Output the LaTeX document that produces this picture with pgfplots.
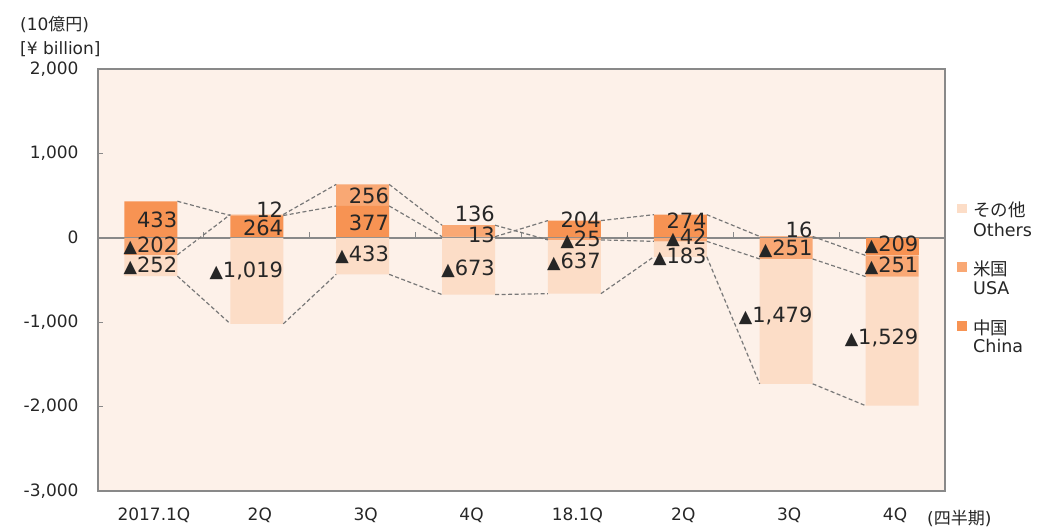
\documentclass[border=0pt]{standalone}
\usepackage{pgfplots}
\pgfplotsset{compat=1.18}
\usepackage{fontspec}
\setmainfont{DejaVu Sans}
\newfontfamily\jp{Noto Sans CJK JP}
\definecolor{bgc}{RGB}{253,241,233}
\definecolor{oth}{RGB}{252,221,199}
\definecolor{usa}{RGB}{249,168,116}
\definecolor{chn}{RGB}{247,147,83}
\definecolor{axc}{RGB}{137,137,137}
\definecolor{lnc}{RGB}{120,120,120}
\definecolor{txt}{RGB}{38,38,38}
\newcommand{\tri}{{\fontsize{17.5}{17.5}\selectfont ▲}}
\pgfplotsset{
  base/.style={
    scale only axis, width=847pt, height=422pt,
    at={(98pt,39pt)}, anchor=south west,
    xmin=-0.5, xmax=7.5, ymin=-3000, ymax=2000,
  }
}
\begin{document}
\begin{tikzpicture}
\useasboundingbox (0,0) rectangle (1037pt,530pt);
% main axis: frame, ticks, positive stacks
\begin{axis}[base, ybar stacked, bar width=0.5,
  axis background/.style={fill=bgc},
  axis line style={axc, line width=1.5pt},
  xtick={0,...,7},
  xticklabels={2017.1Q,2Q,3Q,4Q,18.1Q,2Q,3Q,4Q},
  x tick style={draw=none},
  ytick={-3000,-2000,-1000,0,1000,2000},
  yticklabels={{-3,000},{-2,000},{-1,000},0,{1,000},{2,000}},
  ytick pos=left, tick align=inside, major tick length=4.5pt,
  y tick style={axc, line width=1.2pt},
  tick label style={font=\fontsize{17}{17}\selectfont, text=txt},
  xticklabel style={yshift=-13pt, xshift=3pt},
  yticklabel style={xshift=-16pt},
]
\draw[axc, line width=1.5pt] (axis cs:-0.5,0) -- (axis cs:7.5,0);
\pgfplotsinvokeforeach{0.5,1.5,2.5,3.5,4.5,5.5,6.5}{
  \draw[axc, line width=1.2pt] (axis cs:#1,0) -- ([yshift=5.5pt]axis cs:#1,0);
}
% China (positive part)
\addplot[fill=chn, draw=none] coordinates {(0,433) (1,264) (2,377) (3,13) (4,204) (5,274) (6,16) (7,0)};
% USA (positive part)
\addplot[fill=usa, draw=none] coordinates {(0,0) (1,12) (2,256) (3,136) (4,0) (5,0) (6,0) (7,0)};
\end{axis}
% negative stacks
\begin{axis}[base, ybar stacked, bar width=0.5, hide axis]
% China (negative part)
\addplot[fill=chn, draw=none] coordinates {(0,0) (1,0) (2,0) (3,0) (4,0) (5,0) (6,0) (7,-209)};
% USA (negative part)
\addplot[fill=usa, draw=none] coordinates {(0,-202) (1,0) (2,0) (3,0) (4,-25) (5,-42) (6,-251) (7,-251)};
% Others (negative)
\addplot[fill=oth, draw=none] coordinates {(0,-252) (1,-1019) (2,-433) (3,-673) (4,-637) (5,-183) (6,-1479) (7,-1529)};
\end{axis}
% series lines and labels
\begin{axis}[base, hide axis, clip=false, unbounded coords=jump]
\addplot[lnc, line width=1.2pt, dash pattern=on 4pt off 2.5pt, mark=none] coordinates {
 (0.25,433) (0.75,264) (1,nan) (1.25,264) (1.75,377) (2,nan) (2.25,377) (2.75,13) (3,nan)
 (3.25,13) (3.75,204) (4,nan) (4.25,204) (4.75,274) (5,nan) (5.25,274) (5.75,16) (6,nan)
 (6.25,16) (6.75,-209)};
\addplot[lnc, line width=1.2pt, dash pattern=on 4pt off 2.5pt, mark=none] coordinates {
 (0.25,-202) (0.75,276) (1,nan) (1.25,276) (1.75,633) (2,nan) (2.25,633) (2.75,149) (3,nan)
 (3.25,149) (3.75,-25) (4,nan) (4.25,-25) (4.75,-42) (5,nan) (5.25,-42) (5.75,-251) (6,nan)
 (6.25,-251) (6.75,-460)};
\addplot[lnc, line width=1.2pt, dash pattern=on 4pt off 2.5pt, mark=none] coordinates {
 (0.25,-454) (0.75,-1019) (1,nan) (1.25,-1019) (1.75,-433) (2,nan) (2.25,-433) (2.75,-673) (3,nan)
 (3.25,-673) (3.75,-662) (4,nan) (4.25,-662) (4.75,-225) (5,nan) (5.25,-225) (5.75,-1730) (6,nan)
 (6.25,-1730) (6.75,-1989)};
\addplot[only marks, mark=none, nodes near coords, point meta=explicit symbolic,
  every node near coord/.append style={anchor=east, inner sep=0pt, text=txt,
    font=\fontsize{21}{21}\selectfont}]
  table[meta=lab] {
x y lab
0.25 207 433
0.25 -95 \tri202
0.25 -331 \tri252
1.25 337 12
1.25 112 264
1.25 -396 \tri1,019
2.25 491 256
2.25 172 377
2.25 -201 \tri433
3.25 284 136
3.25 36 13
3.25 -373 \tri673
4.25 213 204
4.25 -18 \tri25
4.25 -290 \tri637
5.25 207 274
5.25 6 \tri42
5.25 -225 \tri183
6.25 95 16
6.25 -130 \tri251
6.25 -923 \tri1,479
7.25 -83 \tri209
7.25 -337 \tri251
7.25 -1189 \tri1,529
};
\end{axis}
% unit labels
\node[anchor=west, inner sep=0pt, text=txt, font=\fontsize{17}{17}\selectfont] at (20pt,505pt) {(10{\jp 億円})};
\node[anchor=west, inner sep=0pt, text=txt, font=\fontsize{17}{17}\selectfont] at (20pt,481pt) {[¥ billion]};
\node[anchor=west, inner sep=0pt, text=txt, font=\fontsize{17}{17}\selectfont] at (927pt,12pt) {({\jp 四半期})};
% legend
\fill[oth] (957pt,316.5pt) rectangle ++(9.5pt,9.5pt);
\fill[usa] (957pt,258.2pt) rectangle ++(9.5pt,9.5pt);
\fill[chn] (957pt,199.2pt) rectangle ++(9.5pt,9.5pt);
\begin{scope}[every node/.style={anchor=west, inner sep=0pt, text=txt, font=\fontsize{17.5}{17.5}\selectfont}]
\node at (973pt,320pt) {\jp その他};
\node at (973pt,300pt) {Others};
\node at (973pt,261pt) {\jp 米国};
\node at (973pt,242pt) {USA};
\node at (973pt,202pt) {\jp 中国};
\node at (973pt,184pt) {China};
\end{scope}
\end{tikzpicture}
\end{document}
